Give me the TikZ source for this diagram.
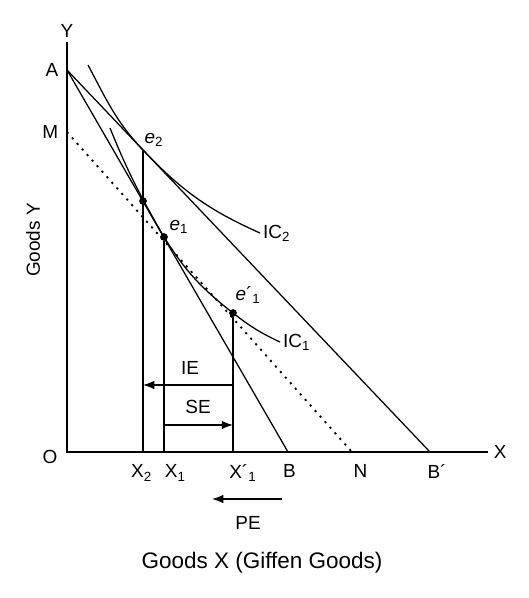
\documentclass[tikz,border=0pt]{standalone}
\usepackage{fontspec}
\setmainfont{Liberation Sans}
\usetikzlibrary{arrows.meta, positioning}

\begin{document}
\begin{tikzpicture}[x=0.025cm,y=0.025cm,node distance=6pt]
 \tikzstyle{lbl}=[font=\fontsize{13.5}{16}\selectfont,inner sep=1pt]
 \tikzstyle{axis}=[line width=1pt]
 \tikzstyle{budget}=[line width=0.9pt]
 \tikzstyle{curve}=[line width=0.9pt]
 \tikzstyle{pt}=[circle,fill=black,inner sep=0pt,minimum size=5.5pt]
 \tikzstyle{effect}=[-{Latex[length=8pt,width=6pt]},line width=0.9pt]
 \useasboundingbox (-67,-146) rectangle (461,452);
 \coordinate (o) at (0,0);
 \coordinate (ytop) at (0,410);
 \coordinate (xend) at (421,0);
 \coordinate (a) at (0,382);
 \coordinate (m) at (0,320);
 \coordinate (b) at (221,0);
 \coordinate (n) at (285,0);
 \coordinate (bp) at (363,0);
 \coordinate (x2) at (76,0);
 \coordinate (x1) at (97,0);
 \coordinate (x1p) at (166,0);
 \coordinate (e2) at (76,302);
 \coordinate (ic2s) at (21,387);
 \coordinate (ic2e) at (193,219);
 \coordinate (ic1s) at (43,324);
 \coordinate (ic1e) at (213,110);
 \node (d2) [pt] at (76,251) {};
 \node (e1) [pt] at (97,215) {};
 \node (e1p) [pt] at (166,139) {};
 \draw[axis] (ytop) -- (o) -- (xend);
 \draw[budget] (a) -- (b);
 \draw[budget] (a) -- (bp);
 \draw[line width=1.3pt,dash pattern=on 1.5pt off 3.8pt] (m) -- (n);
 \draw[curve] (ic2s) to[out=-62,in=133.5] (e2) to[out=-46.5,in=156] (ic2e);
 \draw[curve] (ic1s) to[out=-68,in=120] (e1.center)
   to[out=-58,in=142] (e1p.center) to[out=-38,in=155] (ic1e);
 \draw[budget] (e2) -- (x2);
 \draw[budget] (e1) -- (x1);
 \draw[budget] (e1p) -- (x1p);
 \coordinate (ie1) at (166,67);
 \coordinate (ie2) at (76,67);
 \coordinate (se1) at (97,27);
 \coordinate (se2) at (166,27);
 \coordinate (pe1) at (215,-47);
 \coordinate (pe2) at (145,-47);
 \draw[effect] (ie1) -- (ie2);
 \draw[effect] (se1) -- (se2);
 \draw[effect] (pe1) -- (pe2);
 \node (lie) [lbl] at (123,84) {IE};
 \node (lse) [lbl] at (131,45) {SE};
 \node (lpe) [lbl] at (181,-71) {PE};
 \node (ly) [lbl,above=2pt of ytop] {Y};
 \node (lx) [lbl,right=3pt of xend] {X};
 \node (lo) [lbl] at (-17,-5) {O};
 \node (la) [lbl,left=5pt of a] {A};
 \node (lm) [lbl,left=5pt of m] {M};
 \node (lx2) [lbl,below=8pt of x2,xshift=-1pt] {X\textsubscript{2}};
 \node (lx1) [lbl,below=8pt of x1,xshift=8pt] {X\textsubscript{1}};
 \node (lx1p) [lbl,below=8pt of x1p,xshift=7pt] {X´\textsubscript{1}};
 \node (lb) [lbl,below=8pt of b,xshift=1pt] {B};
 \node (ln) [lbl,below=8pt of n,xshift=6pt] {N};
 \node (lbp) [lbl,below=8pt of bp,xshift=5pt] {B´};
 \node (le2) [lbl] at (87,312) {\textit{e}\textsubscript{2}};
 \node (le1) [lbl] at (112,225) {\textit{e}\textsubscript{1}};
 \node (le1p) [lbl] at (181,157) {\textit{e}´\textsubscript{1}};
 \node (lic2) [lbl,right=1pt of ic2e] {IC\textsubscript{2}};
 \node (lic1) [lbl,right=1pt of ic1e] {IC\textsubscript{1}};
 \node (lgy) [lbl,rotate=90] at (-34,212) {Goods Y};
 \node (lgx) [font=\fontsize{16}{19}\selectfont,inner sep=1pt] at (195,-111)
   {Goods X (Giffen Goods)};
\end{tikzpicture}
\end{document}
